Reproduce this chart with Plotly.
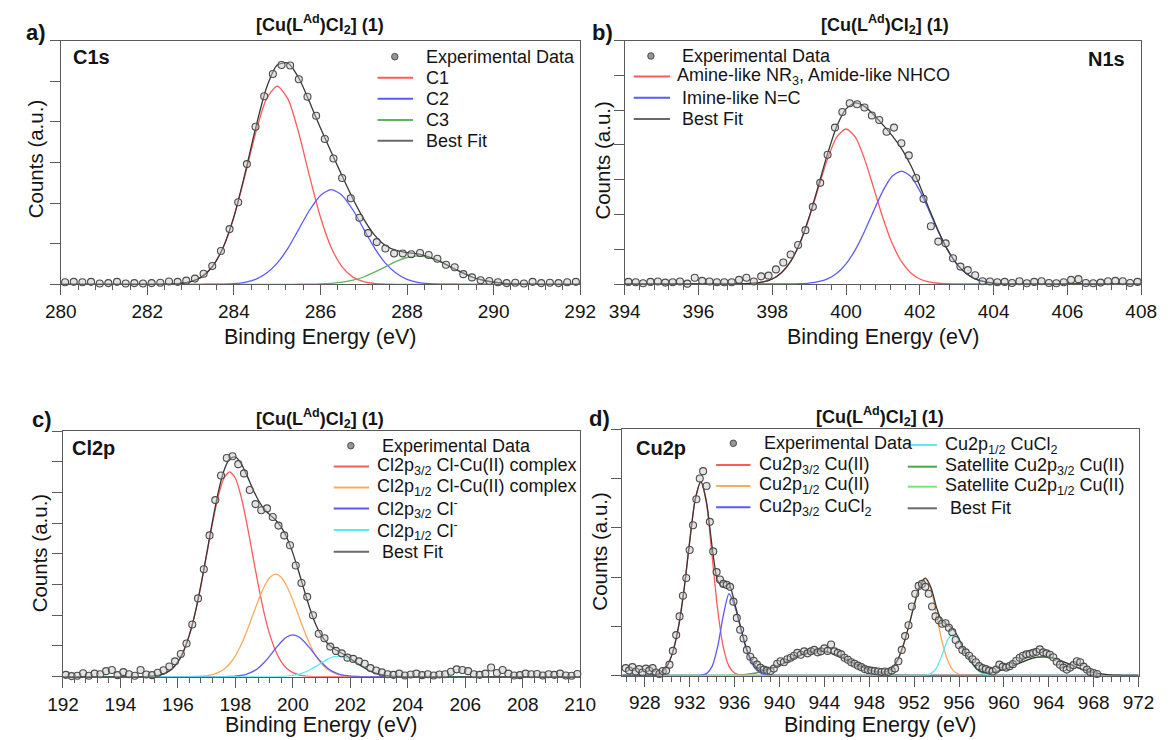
import numpy as np
import plotly.graph_objects as go

# ---------------------------------------------------------------------------
# XPS spectra of [Cu(L^Ad)Cl2] (1).  Energies in eV, intensities in a.u.
# Measured points lie on a uniform energy grid (first energy, step, values).
# Fitted components are listed on the fit grid of each region
# (first energy of the listed values, values).
# ---------------------------------------------------------------------------

# a) C1s
C1S_E0, C1S_DE = 280.1, 0.2
C1S_COUNTS = [
    0.05, 0.06, 0.05, 0.06, 0.02, 0.03, 0.06, 0.02, 0.03, 0.02,
    0.03, 0.04, 0.07, 0.06, 0.09, 0.14, 0.26, 0.45, 0.82, 1.36,
    2.02, 2.96, 3.88, 4.63, 5.18, 5.40, 5.39, 5.05, 4.62, 4.15,
    3.58, 3.10, 2.62, 2.12, 1.64, 1.26, 1.04, 0.88, 0.76, 0.76,
    0.74, 0.77, 0.72, 0.63, 0.48, 0.42, 0.25, 0.17, 0.10, 0.08,
    0.05, 0.03, 0.04, 0.02, 0.06, 0.03, 0.04, 0.03, 0.05, 0.06]
C1S_FIT_GRID = (280.0, 292.0, 0.25)
C1S_C1_START = 282.5
C1S_C1 = [0.006, 0.020, 0.064, 0.177, 0.43, 0.90, 1.65, 2.65, 3.72, 4.56, 4.88,
          4.56, 3.72, 2.65, 1.65, 0.90, 0.43, 0.177, 0.064, 0.020, 0.006]
C1S_C2_START = 283.5
C1S_C2 = [0.002, 0.006, 0.018, 0.05, 0.12, 0.27, 0.52, 0.89, 1.36, 1.83, 2.19, 2.33,
          2.19, 1.83, 1.36, 0.89, 0.52, 0.27, 0.12, 0.05, 0.018, 0.006, 0.002]
C1S_C3_START = 285.5
C1S_C3 = [0.001, 0.003, 0.009, 0.023, 0.051, 0.10, 0.18, 0.30, 0.43, 0.565, 0.66, 0.70,
          0.66, 0.565, 0.43, 0.30, 0.18, 0.10, 0.051, 0.023, 0.009, 0.003, 0.001]

# b) N1s
N1S_E0, N1S_DE = 394.1, 0.2
N1S_COUNTS = [
    0.06, 0.05, 0.02, 0.06, 0.07, 0.04, 0.05, 0.07, 0.01, 0.18,
    0.09, 0.07, 0.05, 0.05, 0.05, 0.12, 0.18, 0.07, 0.22, 0.24,
    0.42, 0.62, 0.85, 1.12, 1.55, 2.22, 2.91, 3.72, 4.50, 4.95,
    5.20, 5.17, 5.08, 4.85, 4.72, 4.38, 4.50, 4.05, 3.70, 3.05,
    2.45, 1.66, 1.22, 1.17, 0.74, 0.50, 0.40, 0.25, 0.08, 0.07,
    0.05, 0.06, 0.03, 0.08, 0.02, 0.06, 0.08, 0.03, 0.02, 0.05,
    0.12, 0.14, 0.03, 0.02, 0.04, 0.08, 0.09, 0.08, 0.03, 0.06]
N1S_FIT_GRID = (394.0, 408.0, 0.25)
N1S_AMINE_START = 397.25
N1S_AMINE = [0.007, 0.021, 0.058, 0.145, 0.324, 0.65, 1.17, 1.90, 2.76, 3.60, 4.23, 4.46,
             4.23, 3.60, 2.76, 1.90, 1.17, 0.65, 0.324, 0.145, 0.058, 0.021, 0.007]
N1S_IMINE_START = 398.5
N1S_IMINE = [0.003, 0.010, 0.027, 0.067, 0.15, 0.31, 0.58, 0.98, 1.51, 2.11, 2.68, 3.10, 3.25,
             3.10, 2.68, 2.11, 1.51, 0.98, 0.58, 0.31, 0.15, 0.067, 0.027, 0.010, 0.003]

# c) Cl2p
CL2P_E0, CL2P_DE = 192.1, 0.2
CL2P_COUNTS = [
    0.06, 0.02, 0.03, 0.11, 0.03, 0.10, 0.08, 0.18, 0.22, 0.05,
    0.15, 0.08, 0.03, 0.22, 0.07, 0.05, 0.13, 0.21, 0.33, 0.50,
    0.74, 1.08, 1.70, 2.55, 3.50, 4.60, 5.75, 6.55, 7.12, 7.18,
    6.92, 6.62, 6.08, 5.62, 5.42, 5.48, 5.20, 4.92, 4.60, 4.28,
    3.62, 3.05, 2.60, 2.00, 1.40, 1.25, 0.98, 0.84, 0.76, 0.62,
    0.58, 0.50, 0.42, 0.28, 0.20, 0.14, 0.08, 0.06, 0.10, 0.04,
    0.07, 0.10, 0.05, 0.08, 0.04, 0.07, 0.08, 0.16, 0.24, 0.22,
    0.18, 0.08, 0.06, 0.10, 0.30, 0.12, 0.22, 0.10, 0.04, 0.05,
    0.10, 0.08, 0.09, 0.04, 0.08, 0.06, 0.10, 0.04, 0.03, 0.09]
CL2P_FIT_GRID = (192.0, 210.0, 0.2)
CL2P_32_CU_START = 195.0
CL2P_32_CU = [0.011, 0.028, 0.063, 0.132, 0.26, 0.48, 0.84, 1.36, 2.07, 2.97, 3.97, 4.98,
              5.86, 6.46, 6.67, 6.46, 5.86, 4.98, 3.97, 2.97, 2.07, 1.36, 0.84, 0.48,
              0.26, 0.132, 0.063, 0.028, 0.011]
CL2P_12_CU_START = 196.6
CL2P_12_CU = [0.006, 0.014, 0.031, 0.066, 0.131, 0.24, 0.42, 0.68, 1.04, 1.49, 1.99, 2.49,
              2.93, 3.23, 3.34, 3.23, 2.93, 2.49, 1.99, 1.49, 1.04, 0.68, 0.42, 0.24,
              0.131, 0.066, 0.031, 0.014, 0.006]
CL2P_32_CL_START = 197.6
CL2P_32_CL = [0.003, 0.007, 0.018, 0.041, 0.085, 0.163, 0.286, 0.461, 0.68, 0.92, 1.14, 1.30,
              1.36, 1.30, 1.14, 0.92, 0.68, 0.461, 0.286, 0.163, 0.085, 0.041, 0.018, 0.007,
              0.003]
CL2P_12_CL_START = 199.4
CL2P_12_CL = [0.004, 0.009, 0.020, 0.042, 0.080, 0.141, 0.227, 0.335, 0.454, 0.563, 0.642,
              0.67, 0.642, 0.563, 0.454, 0.335, 0.227, 0.141, 0.080, 0.042, 0.020, 0.009,
              0.004]

# d) Cu2p
CU2P_E0, CU2P_DE = 926.3, 0.3
CU2P_COUNTS = [
    0.15, 0.10, 0.17, 0.08, 0.13, 0.06, 0.14, 0.10, 0.15, 0.06,
    0.03, 0.09, 0.10, 0.22, 0.50, 0.82, 1.20, 1.62, 1.98, 2.55,
    3.05, 3.58, 4.00, 4.15, 3.85, 3.12, 2.52, 2.10, 1.95, 1.86,
    1.84, 1.80, 1.50, 1.17, 0.93, 0.75, 0.52, 0.38, 0.30, 0.22,
    0.16, 0.12, 0.10, 0.09, 0.14, 0.24, 0.29, 0.27, 0.33, 0.36,
    0.40, 0.46, 0.42, 0.49, 0.45, 0.49, 0.52, 0.47, 0.49, 0.55,
    0.50, 0.63, 0.49, 0.46, 0.43, 0.36, 0.32, 0.27, 0.24, 0.20,
    0.17, 0.13, 0.11, 0.10, 0.09, 0.08, 0.07, 0.08, 0.07, 0.10,
    0.14, 0.29, 0.52, 0.80, 1.02, 1.40, 1.66, 1.82, 1.86, 1.80,
    1.66, 1.40, 1.20, 1.12, 1.05, 1.06, 0.97, 0.88, 0.72, 0.62,
    0.52, 0.47, 0.40, 0.33, 0.27, 0.19, 0.15, 0.13, 0.10, 0.08,
    0.12, 0.22, 0.18, 0.16, 0.19, 0.23, 0.30, 0.36, 0.40, 0.43,
    0.44, 0.46, 0.48, 0.53, 0.47, 0.45, 0.42, 0.37, 0.28, 0.22,
    0.16, 0.12, 0.16, 0.21, 0.29, 0.27, 0.18, 0.12, 0.07, 0.05,
    0.03]
CU2P_FIT_GRID = (926.0, 972.0, 0.5)
CU2P_32_CU_START = 928.5
CU2P_32_CU = [0.005, 0.02, 0.07, 0.20, 0.48, 0.98, 1.75, 2.72, 3.58, 3.93, 3.49, 2.43,
              1.33, 0.57, 0.19, 0.05, 0.011, 0.002]
CU2P_12_CU_START = 948.5
CU2P_12_CU = [0.003, 0.012, 0.04, 0.12, 0.29, 0.58, 0.98, 1.42, 1.81, 1.97, 1.75, 1.22,
              0.68, 0.30, 0.10, 0.025, 0.005, 0.001]
CU2P_32_CUCL2_START = 933.0
CU2P_32_CUCL2 = [0.005, 0.038, 0.186, 0.59, 1.22, 1.66, 1.42, 1.00, 0.57, 0.27, 0.10,
                 0.03, 0.008]
CU2P_12_CUCL2_START = 953.0
CU2P_12_CUCL2 = [0.006, 0.038, 0.157, 0.42, 0.73, 0.836, 0.72, 0.48, 0.30, 0.14, 0.05,
                 0.015, 0.004]
CU2P_SAT32_START = 934.5
CU2P_SAT32 = [0.002, 0.003, 0.005, 0.009, 0.015, 0.024, 0.037, 0.056, 0.082, 0.116,
              0.158, 0.207, 0.261, 0.319, 0.375, 0.425, 0.465, 0.491, 0.50, 0.491,
              0.465, 0.425, 0.375, 0.319, 0.261, 0.207, 0.158, 0.116, 0.082, 0.056,
              0.037, 0.024, 0.015, 0.009, 0.005, 0.003, 0.002]
CU2P_SAT12_START = 956.0
CU2P_SAT12 = [0.002, 0.004, 0.008, 0.014, 0.024, 0.038, 0.059, 0.088, 0.124, 0.166,
              0.214, 0.263, 0.309, 0.347, 0.371, 0.38, 0.371, 0.347, 0.309, 0.263,
              0.214, 0.166, 0.124, 0.088, 0.059, 0.038, 0.024, 0.014, 0.008, 0.004,
              0.002]

# Legend / label texts
TITLE = "<b>[Cu(L<sup>Ad</sup>)Cl<sub>2</sub>] (1)</b>"
C1S_LEGEND = ["Experimental Data", "C1", "C2", "C3", "Best Fit"]
N1S_LEGEND = ["Experimental Data", "Amine-like NR<sub>3</sub>, Amide-like NHCO",
              "Imine-like N=C", "Best Fit"]
CL2P_LEGEND = ["Experimental Data", "Cl2p<sub>3/2</sub> Cl-Cu(II) complex",
               "Cl2p<sub>1/2</sub> Cl-Cu(II) complex", "Cl2p<sub>3/2</sub> Cl<sup>-</sup>",
               "Cl2p<sub>1/2</sub> Cl<sup>-</sup>", "Best Fit"]
CU2P_LEGEND_1 = ["Experimental Data", "Cu2p<sub>3/2</sub> Cu(II)", "Cu2p<sub>1/2</sub> Cu(II)",
                 "Cu2p<sub>3/2</sub> CuCl<sub>2</sub>"]
CU2P_LEGEND_2 = ["Cu2p<sub>1/2</sub> CuCl<sub>2</sub>", "Satellite Cu2p<sub>3/2</sub> Cu(II)",
                 "Satellite Cu2p<sub>1/2</sub> Cu(II)", "Best Fit"]

# ---------------------------------------------------------------------------
# Styling
# ---------------------------------------------------------------------------
W, H = 1175, 740
FONT = "Liberation Sans, Arial, Helvetica, sans-serif"
TXT = "rgb(20,20,20)"
AXC = "rgb(90,90,90)"
RED = "rgb(255,90,90)"
BLUE = "rgb(90,90,255)"
GREEN = "rgb(95,180,95)"
ORANGE = "rgb(255,170,90)"
CYAN = "rgb(90,235,240)"
SAT32 = "rgb(75,165,75)"
SAT12 = "rgb(115,235,115)"
FIT = "rgb(55,55,55)"
FIT_KEY = "rgb(105,105,105)"
MARK_FILL = "rgba(195,195,195,0.45)"
MARK_EDGE = "rgb(75,75,75)"


def px_x(x):
    return x / W


def px_y(y):
    return 1 - y / H


def grid_from(spec):
    e0, e1, de = spec
    n = int(round((e1 - e0) / de)) + 1
    return np.round(e0 + de * np.arange(n), 3), de


def place(grid, step, start, values):
    out = np.zeros(len(grid))
    i = int(round((start - grid[0]) / step))
    out[i:i + len(values)] = values
    return out


PANELS = [
    dict(data=(C1S_E0, C1S_DE, C1S_COUNTS), fit=C1S_FIT_GRID,
         comps=[(C1S_C1_START, C1S_C1, RED), (C1S_C2_START, C1S_C2, BLUE),
                (C1S_C3_START, C1S_C3, GREEN)],
         box=(46, 580, 40.7, 284.3), xr=(280, 292), tick0=280, dtick=2, minor=0.4, ymax=6),
    dict(data=(N1S_E0, N1S_DE, N1S_COUNTS), fit=N1S_FIT_GRID,
         comps=[(N1S_AMINE_START, N1S_AMINE, RED), (N1S_IMINE_START, N1S_IMINE, BLUE)],
         box=(625.7, 1156.7, 40.7, 284.0), xr=(394, 408), tick0=394, dtick=2, minor=0.4, ymax=7),
    dict(data=(CL2P_E0, CL2P_DE, CL2P_COUNTS), fit=CL2P_FIT_GRID,
         comps=[(CL2P_32_CU_START, CL2P_32_CU, RED), (CL2P_12_CU_START, CL2P_12_CU, ORANGE),
                (CL2P_32_CL_START, CL2P_32_CL, BLUE), (CL2P_12_CL_START, CL2P_12_CL, CYAN)],
         box=(48.3, 580, 431, 676.7), xr=(192, 210), tick0=192, dtick=2, minor=0.4, ymax=8),
    dict(data=(CU2P_E0, CU2P_DE, CU2P_COUNTS), fit=CU2P_FIT_GRID,
         comps=[(CU2P_SAT32_START, CU2P_SAT32, SAT32), (CU2P_SAT12_START, CU2P_SAT12, SAT12),
                (CU2P_32_CU_START, CU2P_32_CU, RED), (CU2P_12_CU_START, CU2P_12_CU, ORANGE),
                (CU2P_32_CUCL2_START, CU2P_32_CUCL2, BLUE),
                (CU2P_12_CUCL2_START, CU2P_12_CUCL2, CYAN)],
         box=(623.3, 1154, 429.3, 675.5), xr=(926, 972), tick0=928, dtick=4, minor=0.8, ymax=5),
]

fig = go.Figure()
layout_axes = {}

for k, p in enumerate(PANELS, start=1):
    xa = "x" if k == 1 else f"x{k}"
    ya = "y" if k == 1 else f"y{k}"
    grid, step = grid_from(p["fit"])
    total = np.zeros(len(grid))
    for start, vals, color in p["comps"]:
        comp = place(grid, step, start, vals)
        total += comp
        fig.add_trace(go.Scatter(
            x=grid, y=comp, mode="lines", xaxis=xa, yaxis=ya,
            line=dict(color=color, width=1.3, shape="spline", smoothing=0.7),
            showlegend=False, hoverinfo="skip"))
    fig.add_trace(go.Scatter(
        x=grid, y=total, mode="lines", xaxis=xa, yaxis=ya,
        line=dict(color=FIT, width=1.3, shape="spline", smoothing=0.7),
        showlegend=False, hoverinfo="skip"))
    e0, de, counts = p["data"]
    energies = np.round(e0 + de * np.arange(len(counts)), 3)
    fig.add_trace(go.Scatter(
        x=energies, y=counts, mode="markers", xaxis=xa, yaxis=ya, cliponaxis=False,
        marker=dict(symbol="circle", size=7, color=MARK_FILL,
                    line=dict(color=MARK_EDGE, width=1.1)),
        showlegend=False, hoverinfo="skip"))

    x0, x1, ytop, ybot = p["box"]
    xkey = "xaxis" if k == 1 else f"xaxis{k}"
    ykey = "yaxis" if k == 1 else f"yaxis{k}"
    layout_axes[xkey] = dict(
        domain=[px_x(x0), px_x(x1)], range=list(p["xr"]), anchor=ya,
        tick0=p["tick0"], dtick=p["dtick"], ticks="outside", ticklen=10, tickwidth=1.2,
        tickcolor=AXC, showline=True, linecolor=AXC, linewidth=1.3, mirror=True,
        showgrid=False, zeroline=False,
        minor=dict(ticks="outside", ticklen=5, tickwidth=1, tickcolor=AXC,
                   tick0=p["tick0"], dtick=p["minor"], showgrid=False),
        tickfont=dict(family=FONT, size=19, color=TXT))
    layout_axes[ykey] = dict(
        domain=[px_y(ybot), px_y(ytop)], range=[0, p["ymax"]], anchor=xa,
        tick0=0, dtick=1, ticks="outside", ticklen=10, tickwidth=1.2, tickcolor=AXC,
        showticklabels=False, showline=True, linecolor=AXC, linewidth=1.3, mirror=True,
        showgrid=False, zeroline=False)

annotations = []
shapes = []


def text(s, x, y, size, xanchor="center", yanchor="middle", angle=0, bold=False):
    annotations.append(dict(
        text=f"<b>{s}</b>" if bold else s, x=px_x(x), y=px_y(y), xref="paper", yref="paper",
        xanchor=xanchor, yanchor=yanchor, textangle=angle, showarrow=False,
        font=dict(family=FONT, size=size, color=TXT)))


def key_line(x0, x1, y, color):
    shapes.append(dict(type="line", xref="paper", yref="paper",
                       x0=px_x(x0), x1=px_x(x1), y0=px_y(y), y1=px_y(y),
                       line=dict(color=color, width=2)))


def key_dot(x, y):
    r = 3.3
    shapes.append(dict(type="circle", xref="paper", yref="paper",
                       x0=px_x(x - r), x1=px_x(x + r), y0=px_y(y + r), y1=px_y(y - r),
                       fillcolor="rgb(150,150,150)", line=dict(color=MARK_EDGE, width=1)))


# panel letters, titles, axis titles, region labels
for lab, (lx, ly) in zip("abcd", [(20.7, 32), (602.8, 32.5), (26.3, 419), (600, 418)]):
    text(lab + ")", lx, ly, 22, bold=True)
for tx, ty in [(312, 25), (893.5, 25), (313, 418.3), (887.7, 416.7)]:
    text(TITLE, tx, ty, 18)
for tx, ty in [(313, 337), (891.2, 337), (314, 725), (888.7, 725)]:
    text("Binding Energy (eV)", tx, ty, 21.5)
for tx, ty in [(19.8, 159), (602, 160), (24.5, 552.5), (599.5, 551.5)]:
    text("Counts (a.u.)", tx, ty, 20.5, angle=-90)
text("C1s", 56.4, 56.7, 20, xanchor="left", bold=True)
text("N1s", 1141.8, 59.3, 20, xanchor="right", bold=True)
text("Cl2p", 55.7, 448.3, 20, xanchor="left", bold=True)
text("Cu2p", 635.8, 447.7, 20, xanchor="left", bold=True)

# keys
LEG = 18
# a)
rows = [56.7, 77.7, 98.7, 120.0, 140.7]
key_dot(389.4, rows[0])
for y, c in zip(rows[1:], [RED, BLUE, GREEN, FIT_KEY]):
    key_line(371.7, 408.2, y, c)
for y, s in zip(rows, C1S_LEGEND):
    text(s, 419.5, y, LEG, xanchor="left")
# b)
rows = [56.0, 76.5, 97.7, 119.0]
key_dot(652.7, rows[0])
for y, c in zip(rows[1:], [RED, BLUE, FIT_KEY]):
    key_line(635.0, 672.3, y, c)
for y, s, x in zip(rows, N1S_LEGEND, [682.8, 677.2, 682.8, 682.8]):
    text(s, x, y, LEG, xanchor="left")
# c)
rows = [445.7, 466.5, 487.5, 508.5, 530.0, 551.7]
key_dot(344.2, rows[0])
for y, c in zip(rows[1:], [RED, ORANGE, BLUE, CYAN, FIT_KEY]):
    key_line(326.6, 363.0, y, c)
for y, s, x in zip(rows, CL2P_LEGEND, [374.3, 369.4, 369.4, 369.4, 369.4, 374.3]):
    text(s, x, y, LEG, xanchor="left")
# d)
rows = [443.3, 465.0, 486.0, 507.3]
key_dot(737.4, rows[0])
for y, c in zip(rows[1:], [RED, ORANGE, BLUE]):
    key_line(719.7, 755.0, y, c)
for y, s, x in zip(rows, CU2P_LEGEND_1, [766.7, 761.8, 761.8, 761.8]):
    text(s, x, y, LEG, xanchor="left")
rows = [445.0, 466.7, 486.7, 508.3]
for y, c in zip(rows, [CYAN, SAT32, SAT12, FIT_KEY]):
    key_line(916.7, 946.7, y, c)
for y, s, x in zip(rows, CU2P_LEGEND_2, [952.7, 952.7, 952.7, 958.3]):
    text(s, x, y, LEG, xanchor="left")

fig.update_layout(
    width=W, height=H, margin=dict(l=0, r=0, t=0, b=0),
    paper_bgcolor="white", plot_bgcolor="white", showlegend=False,
    font=dict(family=FONT, color=TXT),
    annotations=annotations, shapes=shapes, **layout_axes)

fig.write_html("out.html")
